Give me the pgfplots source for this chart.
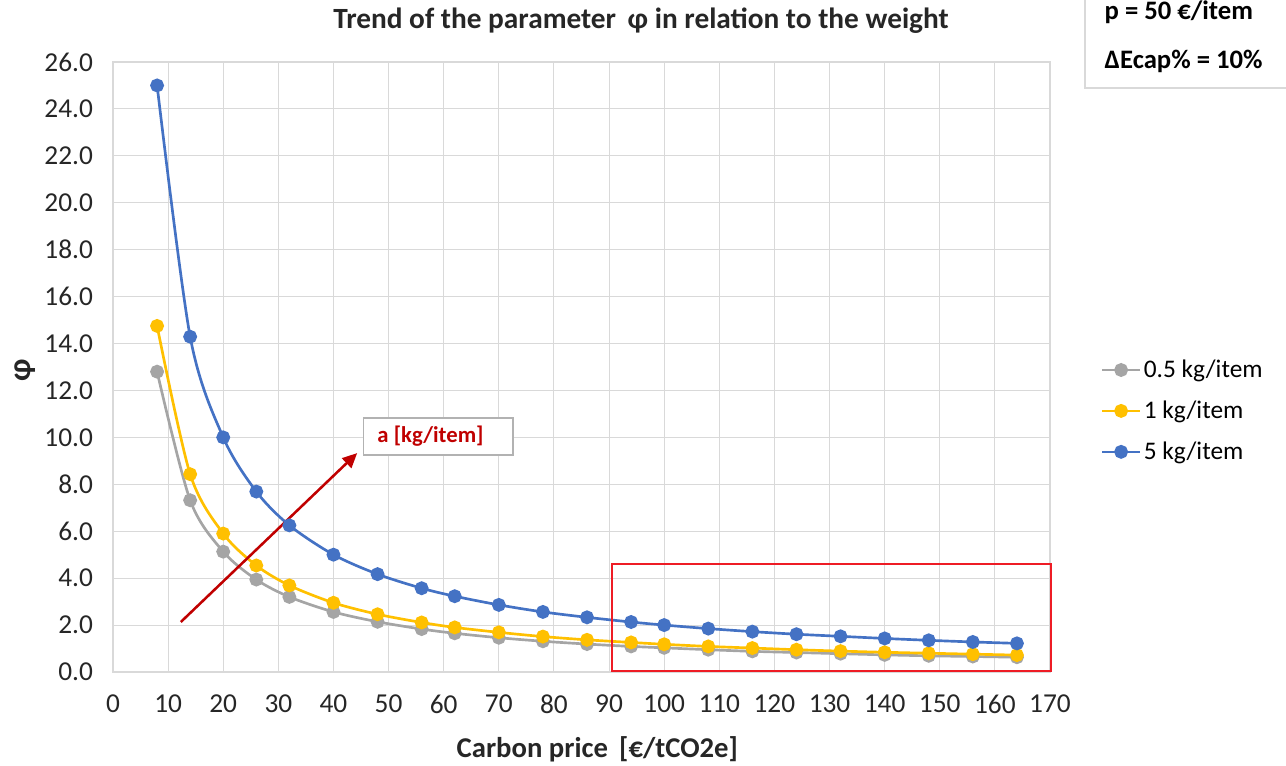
\documentclass[border=0pt]{standalone}
\usepackage{fontspec}
\setmainfont{Carlito}
\usepackage{pgfplots}
\pgfplotsset{compat=1.18}
\usetikzlibrary{arrows.meta}

\definecolor{sgray}{HTML}{A5A5A5}
\definecolor{syellow}{HTML}{FFC000}
\definecolor{sblue}{HTML}{4472C4}
\definecolor{gridc}{HTML}{D9D9D9}
\definecolor{darkred}{HTML}{C00000}
\definecolor{boxred}{HTML}{EE1C25}

\begin{document}
\begin{tikzpicture}
\path[use as bounding box] (0,0) rectangle (964.5pt,574.5pt);

\begin{axis}[
  at={(84.75pt,70.5pt)}, anchor=south west,
  scale only axis, width=702.75pt, height=457.5pt,
  xmin=0, xmax=170, ymin=0, ymax=26,
  xtick distance=10, ytick distance=2,
  grid=major, major grid style={gridc, line width=0.8pt},
  axis line style={gridc, line width=0.8pt},
  tick style={draw=none},
  /pgf/number format/assume math mode=true,
  ticklabel style={font=\fontsize{20.5}{21}\selectfont, text=black!85},
  yticklabel style={/pgf/number format/fixed, /pgf/number format/fixed zerofill,
    /pgf/number format/precision=1, xshift=-11.5pt},
  xticklabel style={yshift=-13.5pt},
  clip=false,
  legend style={at={(1.05,0.428)}, anchor=west, draw=none, fill=none,
    font=\fontsize{19}{19}\selectfont, row sep=12pt,
    nodes={inner xsep=2pt}},
  legend cell align=left,
  legend image code/.code={\draw[mark repeat=2,mark phase=2,#1]
    plot coordinates {(0pt,0pt) (14pt,0pt) (28pt,0pt)};},
  every axis plot/.append style={line width=2pt, smooth, mark=*, mark size=4.2pt},
]

\addplot[color=sgray, mark options={fill=sgray}] coordinates {
  (8,12.80) (14,7.32) (20,5.13) (26,3.94) (32,3.20) (40,2.56) (48,2.14)
  (56,1.83) (62,1.65) (70,1.46) (78,1.31) (86,1.19) (94,1.09) (100,1.03)
  (108,0.95) (116,0.88) (124,0.83) (132,0.78) (140,0.73) (148,0.69)
  (156,0.66) (164,0.63)};
\addlegendentry{0.5 kg/item}

\addplot[color=syellow, mark options={fill=syellow}] coordinates {
  (8,14.75) (14,8.43) (20,5.90) (26,4.54) (32,3.69) (40,2.95) (48,2.46)
  (56,2.11) (62,1.90) (70,1.69) (78,1.51) (86,1.37) (94,1.26) (100,1.18)
  (108,1.09) (116,1.02) (124,0.95) (132,0.89) (140,0.84) (148,0.80)
  (156,0.76) (164,0.72)};
\addlegendentry{1 kg/item}

\addplot[color=sblue, mark options={fill=sblue}] coordinates {
  (8,25.00) (14,14.29) (20,10.00) (26,7.69) (32,6.25) (40,5.00) (48,4.17)
  (56,3.57) (62,3.23) (70,2.86) (78,2.56) (86,2.33) (94,2.13) (100,2.00)
  (108,1.85) (116,1.72) (124,1.61) (132,1.52) (140,1.43) (148,1.35)
  (156,1.28) (164,1.22)};
\addlegendentry{5 kg/item}

% highlighted region at high carbon prices
\draw[boxred, line width=1.5pt] (axis cs:90.5,0.03) rectangle (axis cs:170.2,4.6);

% direction of increasing weight
\draw[darkred, line width=1.9pt, -{Triangle[length=11pt,width=10pt]}]
  (axis cs:12.3,2.13) -- (axis cs:44.3,9.33);
\draw[black!30, line width=1pt, fill=white] (axis cs:45.4,9.25) rectangle (axis cs:72.6,10.83);
\node[darkred, font=\fontsize{17}{18}\selectfont\bfseries] at (axis cs:57.6,10.04) {a [kg/item]};
\end{axis}

% title and axis labels
\node[anchor=base, font=\fontsize{22}{23}\selectfont\bfseries, text=black!85]
  at (480.75pt,552.75pt) {Trend of the parameter\, φ in relation to the weight};
\node[anchor=base, font=\fontsize{21.5}{22}\selectfont\bfseries, text=black!85]
  at (448pt,6.5pt) {Carbon price\, [€/tCO2e]};
\node[rotate=90, font=\fontsize{24}{24}\selectfont\bfseries, text=black!85]
  at (18.75pt,297pt) {φ};

% parameter box
\draw[gridc, line width=1pt] (813.75pt,508.5pt) rectangle (970pt,580pt);
\node[anchor=base west, font=\fontsize{20}{21}\selectfont\bfseries]
  at (825pt,559.5pt) {p = 50 €/item};
\node[anchor=base west, font=\fontsize{20}{21}\selectfont\bfseries]
  at (825pt,522.75pt) {ΔEcap\% = 10\%};
\end{tikzpicture}
\end{document}
